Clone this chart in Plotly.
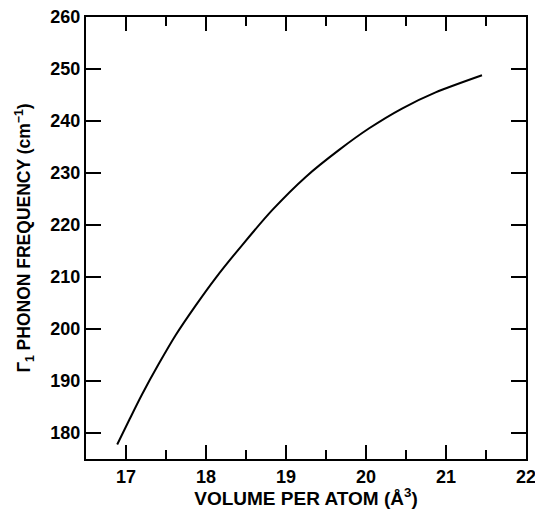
import plotly.graph_objects as go

volume = [16.89, 17.04, 17.20, 17.41, 17.62, 17.87, 18.12, 18.45, 18.83, 19.25, 19.66, 20.04, 20.45, 20.87, 21.45]
frequency = [177.8, 182.5, 187.4, 193.3, 198.8, 204.5, 209.8, 216.1, 222.9, 229.3, 234.4, 238.6, 242.4, 245.5, 248.8]

x_ticks = [17, 18, 19, 20, 21, 22]
y_ticks = [180, 190, 200, 210, 220, 230, 240, 250, 260]

font_family = "Liberation Sans, Arial, sans-serif"

fig = go.Figure()
fig.add_trace(go.Scatter(
    x=volume, y=frequency, mode="lines",
    line=dict(color="black", width=2, shape="spline", smoothing=0.8),
    showlegend=False, hoverinfo="skip",
))

fig.update_layout(
    width=535, height=509,
    margin=dict(l=86, r=9, t=17, b=50),
    paper_bgcolor="white", plot_bgcolor="white",
    font=dict(family=font_family, color="black"),
)
fig.update_xaxes(
    range=[16.5, 22], tickvals=x_ticks, ticktext=[str(v) for v in x_ticks],
    ticks="inside", ticklen=14, tickwidth=1.5, tickcolor="black",
    minor=dict(ticks="inside", ticklen=9, tickwidth=1.5, tickcolor="black", dtick=0.5, tick0=16.5, showgrid=False),
    showline=True, linecolor="black", linewidth=2, mirror="allticks",
    showgrid=False, zeroline=False, automargin=False, ticklabeloverflow="allow",
    tickfont=dict(size=18, family=font_family, weight="bold"),
    title=dict(text="VOLUME PER ATOM (Å<sup>3</sup>)", font=dict(size=19, family=font_family, weight="bold")),
)
fig.update_yaxes(
    range=[175, 260], tickvals=y_ticks, ticktext=[str(v) for v in y_ticks],
    ticks="inside", ticklen=15, tickwidth=1.5, tickcolor="black",
    showline=True, linecolor="black", linewidth=2, mirror="allticks",
    showgrid=False, zeroline=False, automargin=False, ticklabeloverflow="allow",
    tickfont=dict(size=18, family=font_family, weight="bold"),
    title=dict(text="Γ<sub>1</sub> PHONON FREQUENCY (cm<sup>−1</sup>)", font=dict(size=17.5, family=font_family, weight="bold")),
)

fig.write_html("out.html")
